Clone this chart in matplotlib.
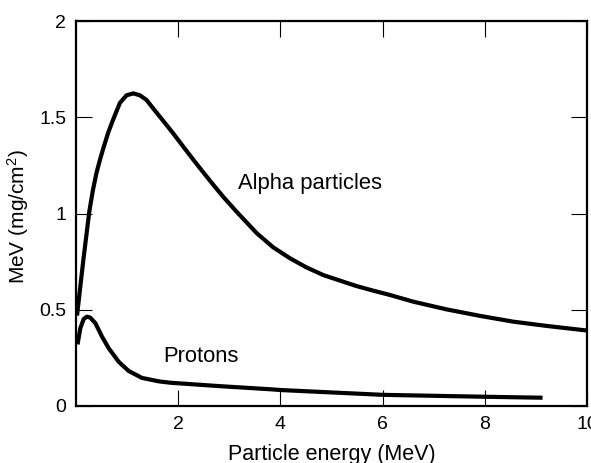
import matplotlib
matplotlib.use("Agg")
import matplotlib.pyplot as plt

plt.rcParams['font.family'] = ['Liberation Sans', 'DejaVu Sans']
plt.rcParams['mathtext.fontset'] = 'custom'
plt.rcParams['mathtext.rm'] = 'Liberation Sans'
plt.rcParams['mathtext.it'] = 'Liberation Sans'

# Data
alpha_x = [0.02, 0.08, 0.14, 0.20, 0.26, 0.33, 0.40, 0.47, 0.53, 0.63, 0.73,
           0.86, 0.99, 1.12, 1.25, 1.38, 1.51, 1.71, 1.90, 2.10, 2.30, 2.49,
           2.69, 2.88, 3.14, 3.54, 3.86, 4.19, 4.51, 4.84, 5.17, 5.49, 5.82,
           6.14, 6.60, 7.25, 7.91, 8.56, 9.21, 10.0]
alpha_y = [0.47, 0.61, 0.75, 0.88, 1.01, 1.12, 1.21, 1.28, 1.335, 1.42, 1.49,
           1.575, 1.614, 1.624, 1.614, 1.59, 1.546, 1.48, 1.417, 1.347, 1.278, 1.214,
           1.148, 1.087, 1.01, 0.897, 0.824, 0.767, 0.72, 0.68, 0.651, 0.623, 0.599,
           0.577, 0.542, 0.502, 0.468, 0.438, 0.416, 0.392]

proton_x = [0.03, 0.085, 0.15, 0.215, 0.28, 0.38, 0.51, 0.64, 0.835, 1.03, 1.29,
            1.62, 1.84, 2.49, 2.82, 3.8, 4.0, 6.0, 8.0, 9.13]
proton_y = [0.32, 0.404, 0.452, 0.464, 0.459, 0.43, 0.36, 0.30, 0.23, 0.182, 0.146,
            0.128, 0.121, 0.109, 0.103, 0.087, 0.083, 0.058, 0.048, 0.043]

x_ticks = [2, 4, 6, 8, 10]
x_tick_labels = ['2', '4', '6', '8', '10']
y_ticks = [0, 0.5, 1, 1.5, 2]
y_tick_labels = ['0', '0.5', '1', '1.5', '2']

W, H = 591, 463
fig = plt.figure(figsize=(W / 100, H / 100), dpi=100)
ax = fig.add_axes([76 / W, 1 - 406 / H, (587 - 76) / W, (406 - 21) / H])

ax.plot(alpha_x, alpha_y, color='black', lw=3.0, solid_capstyle='butt', solid_joinstyle='round')
ax.plot(proton_x, proton_y, color='black', lw=3.0, solid_capstyle='butt', solid_joinstyle='round')

ax.set_xlim(0, 10)
ax.set_ylim(0, 2)
ax.set_xticks(x_ticks)
ax.set_xticklabels(x_tick_labels)
ax.set_yticks(y_ticks)
ax.set_yticklabels(y_tick_labels)
ax.tick_params(direction='in', length=11.5, width=0.8, top=True, right=True,
               labelsize=14, pad=7)
for s in ax.spines.values():
    s.set_linewidth(1.6)

ax.text(3.17, 1.156, 'Alpha particles', fontsize=15.8, ha='left', va='center')
ax.text(1.70, 0.255, 'Protons', fontsize=15.8, ha='left', va='center')

fig.text(331.5 / W, 1 - 460 / H, 'Particle energy (MeV)', fontsize=15.5,
         ha='center', va='baseline')
fig.text(18 / W, 1 - 217 / H, 'MeV (mg/cm$^2$)', fontsize=15, rotation=90,
         ha='center', va='center')

fig.savefig('out.png', dpi=100)
